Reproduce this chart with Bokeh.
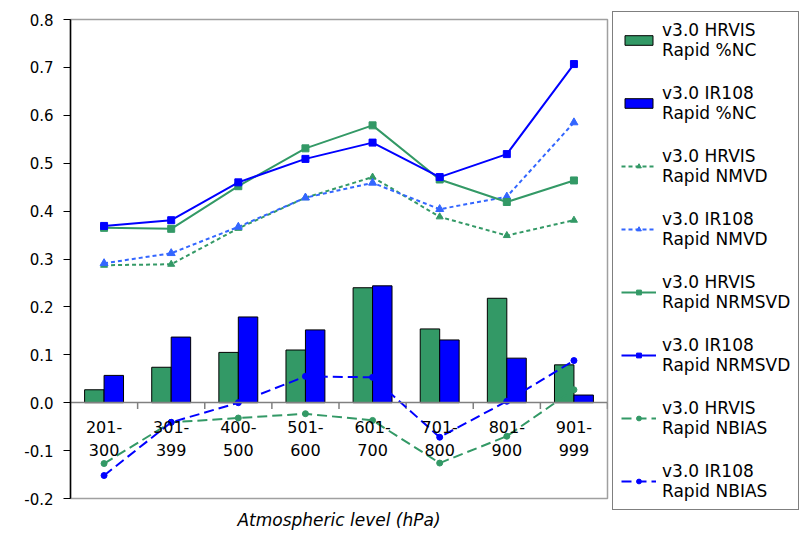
from bokeh.plotting import figure
from bokeh.models import (FactorRange, Range1d, Legend, LegendItem, ColumnDataSource,
                          Title, FixedTicker, PrintfTickFormatter)
from bokeh.transform import dodge
from bokeh.embed import file_html
from bokeh.resources import INLINE

levels = ["201-\n300", "301-\n399", "400-\n500", "501-\n600",
          "601-\n700", "701-\n800", "801-\n900", "901-\n999"]
hrvis_nc = [0.027, 0.074, 0.105, 0.110, 0.240, 0.154, 0.218, 0.079]
ir108_nc = [0.057, 0.137, 0.179, 0.152, 0.244, 0.131, 0.093, 0.016]
hrvis_nmvd = [0.287, 0.289, 0.364, 0.428, 0.471, 0.388, 0.349, 0.381]
ir108_nmvd = [0.291, 0.312, 0.367, 0.428, 0.459, 0.404, 0.430, 0.585]
hrvis_nrmsvd = [0.365, 0.363, 0.452, 0.531, 0.579, 0.466, 0.419, 0.464]
ir108_nrmsvd = [0.369, 0.381, 0.460, 0.509, 0.543, 0.471, 0.519, 0.707]
hrvis_nbias = [-0.127, -0.041, -0.032, -0.023, -0.037, -0.126, -0.070, 0.027]
ir108_nbias = [-0.152, -0.041, 0.000, 0.055, 0.053, -0.072, 0.003, 0.088]
yticks = [-0.2, -0.1, 0.0, 0.1, 0.2, 0.3, 0.4, 0.5, 0.6, 0.7, 0.8]

GREEN = "#339966"
BLUE = "#0000FF"
LBLUE = "#3366FF"
FONT = "DejaVu Sans"

src = ColumnDataSource(dict(
    cat=levels, hrvis_nc=hrvis_nc, ir108_nc=ir108_nc,
    hrvis_nmvd=hrvis_nmvd, ir108_nmvd=ir108_nmvd,
    hrvis_nrmsvd=hrvis_nrmsvd, ir108_nrmsvd=ir108_nrmsvd,
    hrvis_nbias=hrvis_nbias, ir108_nbias=ir108_nbias,
    zero=[0.0] * len(levels), tick=[-0.013] * len(levels)))

p = figure(x_range=FactorRange(*levels, range_padding=0), y_range=Range1d(-0.2, 0.8),
           frame_width=537, frame_height=479, min_border_left=70, min_border_right=0,
           min_border_top=19, min_border_bottom=0,
           output_backend="svg", toolbar_location=None)

p.xgrid.visible = False
p.ygrid.visible = False
p.outline_line_color = "#a0a0a0"
p.outline_line_width = 1.5

# x axis at y = 0
p.xaxis.fixed_location = 0
p.xaxis.axis_line_color = "#808080"
p.xaxis.axis_line_width = 1.5
p.xaxis.major_tick_line_color = None
p.xaxis.minor_tick_line_color = None
p.xaxis.major_label_text_font = FONT
p.xaxis.major_label_text_font_size = "16px"
p.xaxis.major_label_text_color = "black"
p.xaxis.major_label_standoff = 9

p.yaxis.ticker = FixedTicker(ticks=yticks)
p.yaxis.formatter = PrintfTickFormatter(format="%.1f")
p.yaxis.axis_line_color = "black"
p.yaxis.axis_line_width = 1.5
p.yaxis.major_tick_line_color = "black"
p.yaxis.major_tick_out = 7
p.yaxis.major_tick_in = 0
p.yaxis.minor_tick_line_color = None
p.yaxis.major_label_text_font = FONT
p.yaxis.major_label_text_font_size = "15px"
p.yaxis.major_label_text_color = "black"
p.yaxis.major_label_standoff = 10

p.add_layout(Title(text="Atmospheric level (hPa)", align="center", text_font=FONT,
                   text_font_size="17px", text_font_style="italic",
                   text_color="black", standoff=18), "below")

# bars
b1 = p.vbar(x=dodge("cat", -0.145, range=p.x_range), top="hrvis_nc", width=0.29,
            source=src, fill_color=GREEN, line_color="black", line_width=1)
b2 = p.vbar(x=dodge("cat", 0.145, range=p.x_range), top="ir108_nc", width=0.29,
            source=src, fill_color=BLUE, line_color="black", line_width=1)

# category boundary ticks on the zero line
p.segment(x0=dodge("cat", 0.5, range=p.x_range), y0="zero",
          x1=dodge("cat", 0.5, range=p.x_range), y1="tick",
          source=src, line_color="#808080", line_width=1.5)

# NMVD
l3 = p.line("cat", "hrvis_nmvd", source=src, line_color=GREEN, line_width=2, line_dash="4 3")
m3 = p.scatter("cat", "hrvis_nmvd", source=src, marker="triangle", size=7,
               fill_color=GREEN, line_color=GREEN)
l4 = p.line("cat", "ir108_nmvd", source=src, line_color=LBLUE, line_width=2, line_dash="4 3")
m4 = p.scatter("cat", "ir108_nmvd", source=src, marker="triangle", size=8,
               fill_color=LBLUE, line_color=LBLUE)
# NRMSVD
l5 = p.line("cat", "hrvis_nrmsvd", source=src, line_color=GREEN, line_width=2)
m5 = p.scatter("cat", "hrvis_nrmsvd", source=src, marker="square", size=7,
               fill_color=GREEN, line_color=GREEN)
l6 = p.line("cat", "ir108_nrmsvd", source=src, line_color=BLUE, line_width=2)
m6 = p.scatter("cat", "ir108_nrmsvd", source=src, marker="square", size=7,
               fill_color=BLUE, line_color=BLUE)
# NBIAS
l7 = p.line("cat", "hrvis_nbias", source=src, line_color=GREEN, line_width=2, line_dash="10 5")
m7 = p.scatter("cat", "hrvis_nbias", source=src, marker="circle", size=6,
               fill_color=GREEN, line_color=GREEN)
l8 = p.line("cat", "ir108_nbias", source=src, line_color=BLUE, line_width=2, line_dash="10 5")
m8 = p.scatter("cat", "ir108_nbias", source=src, marker="circle", size=6,
               fill_color=BLUE, line_color=BLUE)

items = [
    LegendItem(label="v3.0 HRVIS\nRapid %NC", renderers=[b1]),
    LegendItem(label="v3.0 IR108\nRapid %NC", renderers=[b2]),
    LegendItem(label="v3.0 HRVIS\nRapid NMVD", renderers=[l3, m3]),
    LegendItem(label="v3.0 IR108\nRapid NMVD", renderers=[l4, m4]),
    LegendItem(label="v3.0 HRVIS\nRapid NRMSVD", renderers=[l5, m5]),
    LegendItem(label="v3.0 IR108\nRapid NRMSVD", renderers=[l6, m6]),
    LegendItem(label="v3.0 HRVIS\nRapid NBIAS", renderers=[l7, m7]),
    LegendItem(label="v3.0 IR108\nRapid NBIAS", renderers=[l8, m8]),
]
legend = Legend(items=items, location=(5, -12), orientation="vertical",
                glyph_width=35, glyph_height=12, label_standoff=6,
                padding=8, spacing=23, margin=0,
                label_text_font=FONT, label_text_font_size="17px",
                label_text_color="black", label_text_line_height=1.12,
                border_line_color="black", border_line_width=1.2,
                background_fill_color="white", background_fill_alpha=1.0)
p.add_layout(legend, "right")

open("out.html", "w").write(file_html(p, INLINE))
